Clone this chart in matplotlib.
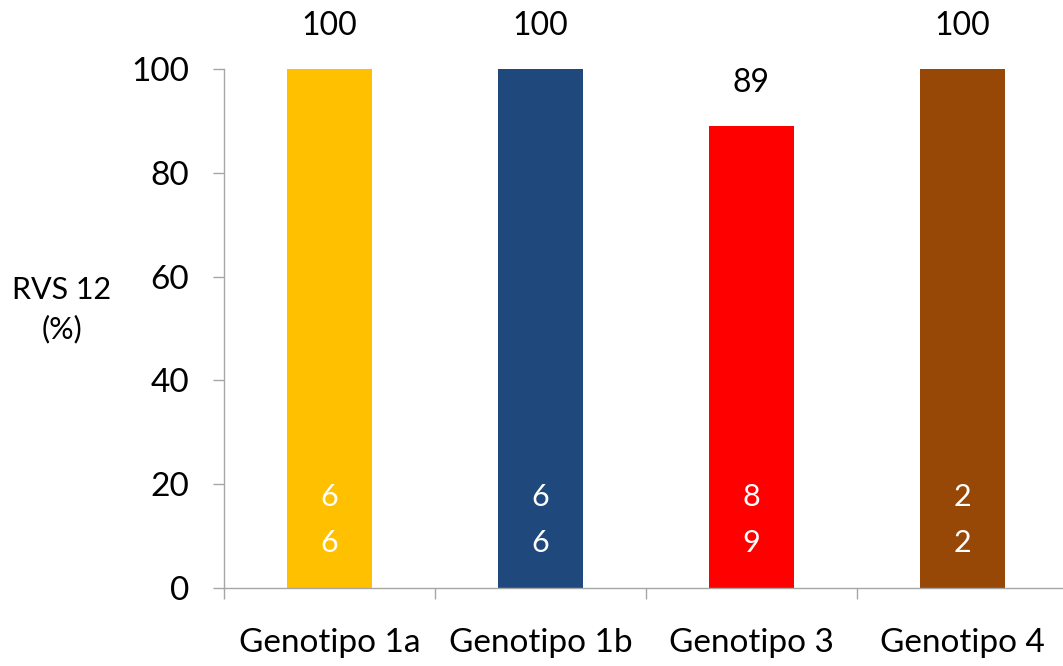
import matplotlib.pyplot as plt
import numpy as np

plt.rcParams['font.family'] = ['Lato', 'DejaVu Sans']

genotipos = ['Genotipo 1a', 'Genotipo 1b', 'Genotipo 3', 'Genotipo 4']
rvs12 = [100, 100, 89, 100]
respondedores = [6, 6, 8, 2]
pacientes = [6, 6, 9, 2]
colores = ['#FFC000', '#1F497D', '#FF0000', '#974706']

fig = plt.figure(figsize=(10.63, 6.66), dpi=100)
ax = fig.add_axes([224 / 1063, 78 / 666, 844 / 1063, 519 / 666])

x = np.arange(len(genotipos))
bars = ax.bar(x, rvs12, width=0.40, color=colores)

# percentage above each bar
for xi, v in zip(x, rvs12):
    ax.annotate(f'{v}', (xi, v), xytext=(0, 31), textcoords='offset points',
                ha='center', va='center', fontsize=23, color='black')

# patients n/N inside the bars
for xi, n, N in zip(x, respondedores, pacientes):
    ax.text(xi, 17.5, f'{n}', ha='center', va='center', fontsize=22, color='white')
    ax.text(xi, 8.7, f'{N}', ha='center', va='center', fontsize=22, color='white')

ax.set_xlim(-0.5, 3.5)
ax.set_ylim(0, 100)
ax.set_yticks([0, 20, 40, 60, 80, 100])
ax.set_xticks(x)
ax.set_xticklabels(genotipos)
ax.set_xticks(np.arange(-0.5, 4.0, 1.0), minor=True)

ax.tick_params(axis='y', labelsize=24, length=8, width=1, color='#A6A6A6', pad=17)
ax.tick_params(axis='x', which='major', labelsize=24, length=0, pad=29)
ax.tick_params(axis='x', which='minor', length=8, width=1, color='#A6A6A6')

for side in ['top', 'right']:
    ax.spines[side].set_visible(False)
for side in ['left', 'bottom']:
    ax.spines[side].set_color('#A6A6A6')
    ax.spines[side].set_linewidth(1)

fig.text(62 / 1063, 1 - 310 / 666, 'RVS 12\n(%)', ha='center', va='center',
         fontsize=22, linespacing=1.45)

fig.savefig('out.png', dpi=100)
